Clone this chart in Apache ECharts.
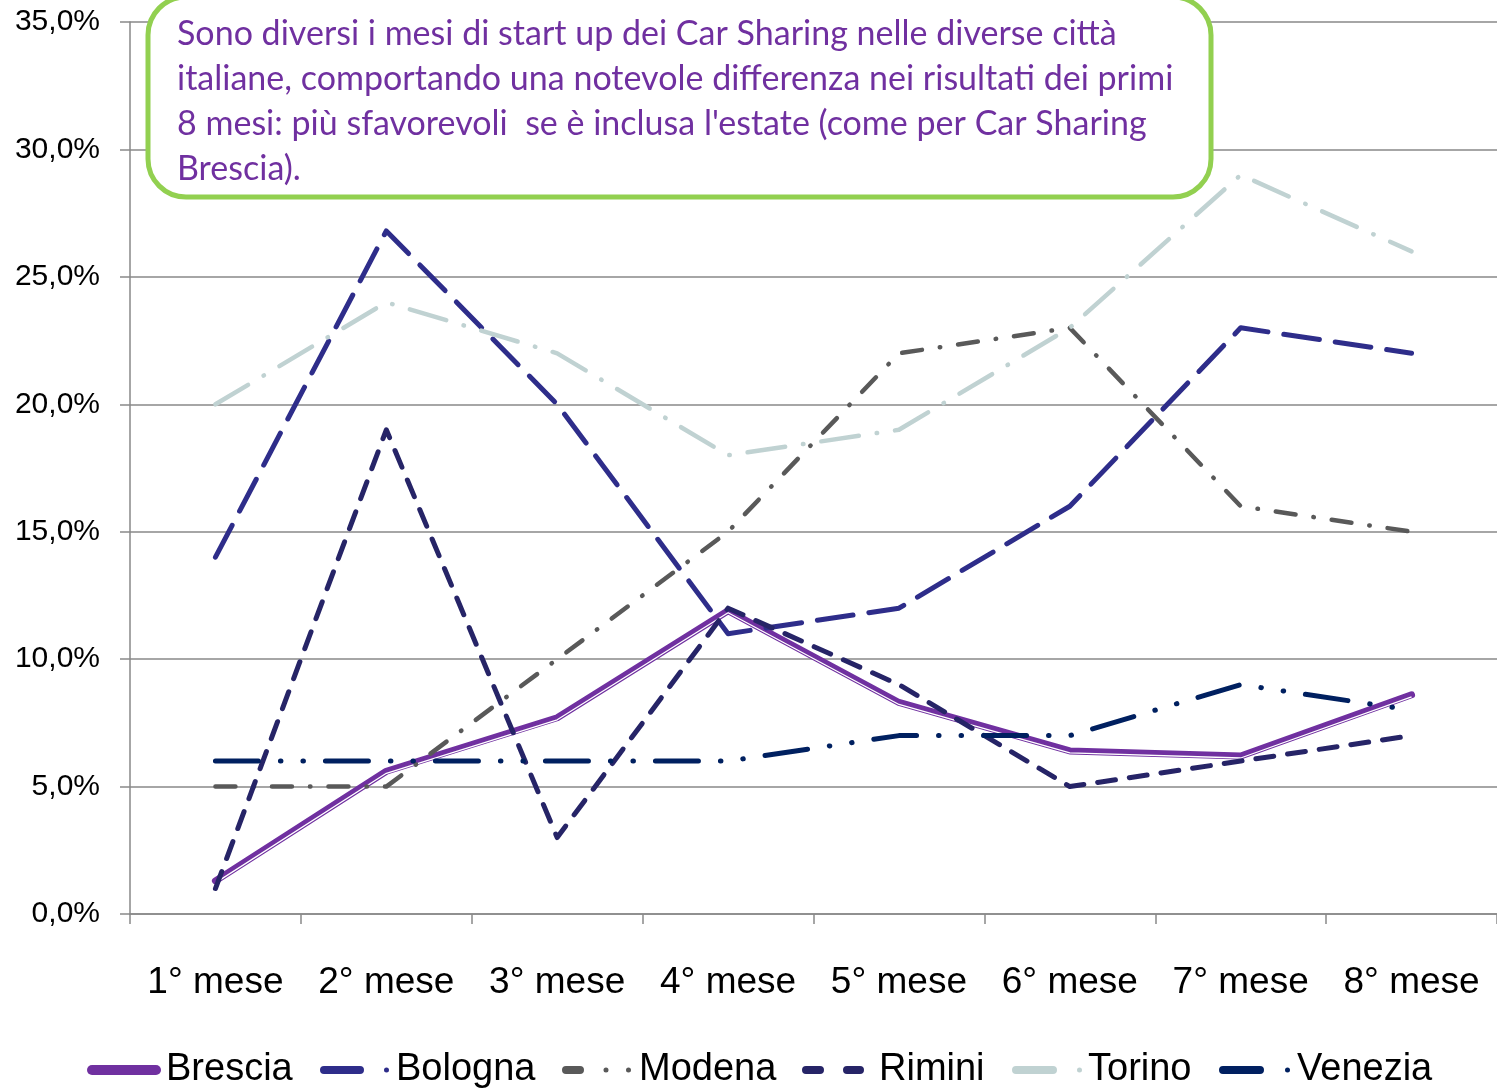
<!DOCTYPE html>
<html><head><meta charset="utf-8">
<script src="https://cdn.jsdelivr.net/npm/echarts@6/dist/echarts.min.js"></script>
<style>html,body{margin:0;padding:0;background:#fff}#c{width:1497px;height:1089px}</style>
</head><body><div id="c"></div>
<script>
const categories = ['1° mese','2° mese','3° mese','4° mese','5° mese','6° mese','7° mese','8° mese'];
const brescia = [1.3, 5.6, 7.7, 11.9, 8.3, 6.4, 6.2, 8.6];
const bologna = [14.0, 26.8, 20.0, 11.0, 12.0, 16.0, 23.0, 22.0];
const modena  = [5.0, 5.0, 10.0, 15.0, 22.0, 23.0, 16.0, 15.0];
const rimini  = [1.0, 19.0, 3.0, 12.0, 9.0, 5.0, 6.0, 7.0];
const torino  = [20.0, 24.0, 22.0, 18.0, 19.0, 23.0, 29.0, 26.0];
const venezia = [6.0, 6.0, 6.0, 6.0, 7.0, 7.0, 9.0, 8.0];
const seriesNames = ['Brescia','Bologna','Modena','Rimini','Torino','Venezia'];
const noteText = "Sono diversi i mesi di start up dei Car Sharing nelle diverse città\nitaliane, comportando una notevole differenza nei risultati dei primi\n8 mesi: più sfavorevoli  se è inclusa l'estate (come per Car Sharing\nBrescia).";

const chart = echarts.init(document.getElementById('c'), null, {renderer:'canvas'});
const axisGray = '#898989';
function line(name, data, color, width, dash, z){
  return {
    name, type:'line', data, xAxisIndex:0, yAxisIndex:0, symbol:'none', z,
    lineStyle:{color, width, type:dash, cap:'round', join:'round'},
    itemStyle:{color}, emphasis:{disabled:true}, animation:false
  };
}
// legend icon shapes (height 8 units)
function dot(cx){ return 'M'+(cx-2.5)+',4 a2.5,2.5 0 1,0 5,0 a2.5,2.5 0 1,0 -5,0 '; }
function bar(x0,x1){ return 'M'+(x0+4)+',0 H'+(x1-4)+' A4,4 0 0,1 '+(x1-4)+',8 H'+(x0+4)+' A4,4 0 0,1 '+(x0+4)+',0 Z '; }
const legendDefs = [
  {name:'Brescia', left:87,  w:74, h:10, icon:'path://'+'M5,0 H69 A5,5 0 0,1 69,10 H5 A5,5 0 0,1 5,0 Z', pad:0},
  {name:'Bologna', left:320, w:69, h:8, icon:'path://'+bar(0,44)+dot(66.5), pad:2},
  {name:'Modena',  left:562, w:69, h:8, icon:'path://'+bar(0,22)+dot(44)+dot(66.5), pad:3},
  {name:'Rimini',  left:802, w:62, h:8, icon:'path://'+bar(0,22)+bar(41,62), pad:10},
  {name:'Torino',  left:1012,w:70, h:8, icon:'path://'+bar(0,45)+dot(67.5), pad:1},
  {name:'Venezia', left:1219,w:71, h:8, icon:'path://'+bar(0,45)+dot(68.5), pad:2}
];
const legends = legendDefs.map(d => ({
  data:[{name:d.name, icon:d.icon}], left:d.left, top:1050, padding:0, itemWidth:d.w, itemHeight:d.h, itemGap:0,
  selectedMode:false, symbolKeepAspect:false,
  textStyle:{fontSize:38, lineHeight:40, color:'#000', fontFamily:'Liberation Sans, Arial', padding:[0,0,0,d.pad]}
}));

chart.setOption({
  animation:false,
  grid:[
    {left:130, right:0, top:22, bottom:175},
    {left:130, right:0, top:24, bottom:173}
  ],
  xAxis:[
    {type:'category', gridIndex:0, data:categories, boundaryGap:true,
     axisLine:{lineStyle:{color:axisGray, width:1.5}},
     axisTick:{show:true, interval:0, length:10, lineStyle:{color:axisGray, width:1.5}},
     axisLabel:{interval:0, color:'#000', fontSize:37, fontFamily:'Liberation Sans, Arial', margin:50}},
    {type:'category', gridIndex:1, data:categories, boundaryGap:true, show:false}
  ],
  yAxis:[
    {type:'value', gridIndex:0, min:0, max:35, interval:5,
     axisLine:{show:true, lineStyle:{color:axisGray, width:1.5}},
     axisTick:{show:true, length:10, lineStyle:{color:axisGray, width:1.5}},
     splitLine:{show:true, lineStyle:{color:axisGray, width:1.5}},
     axisLabel:{color:'#000', fontSize:30, fontFamily:'Liberation Sans, Arial', margin:30,
       formatter:v=>v.toFixed(1).replace('.',',')+'%'}},
    {type:'value', gridIndex:1, min:0, max:35, interval:5, show:false}
  ],
  legend:legends,
  series:[
    line('Brescia', brescia, '#7030a0', 7, 'solid', 2),
    {name:'BresciaGap', type:'line', data:brescia, xAxisIndex:1, yAxisIndex:1, symbol:'none', z:2,
     lineStyle:{color:'#ffffff', width:1.3, join:'round'}, emphasis:{disabled:true}, animation:false, silent:true},
    line('Bologna', bologna, '#2e2d8a', 5, [36,16], 3),
    line('Modena', modena, '#595959', 4.5, [20,18,0.5,18], 4),
    line('Rimini', rimini, '#262467', 5, [18,14], 5),
    line('Torino', torino, '#c0d2d2', 4.5, [38,18,0.5,18], 6),
    line('Venezia', venezia, '#002060', 5, [43,22,0.5,22,0.5,22], 7)
  ],
  graphic:[
    {type:'rect', z:100, shape:{x:148, y:-3, width:1063, height:200, r:38},
     style:{fill:'#fff', stroke:'#92d050', lineWidth:5}},
    {type:'text', z:101, x:177, y:11, scaleX:0.972,
     style:{text:noteText, fill:'#7030a0', font:'35px Lato', lineHeight:45}}
  ]
});
</script></body></html>
